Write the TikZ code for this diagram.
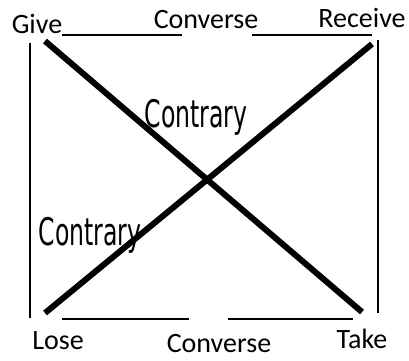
\documentclass[tikz,border=0pt]{standalone}
\usepackage{fontspec}
\setmainfont{Carlito}
\newfontfamily\condfont{DejaVu Sans}
\begin{document}
\begin{tikzpicture}[x=1pt,y=-1pt,
  lbl/.style={inner sep=0pt,font=\fontsize{28}{28}\selectfont},
  contr/.style={inner sep=0pt,xscale=0.62,font=\condfont\fontsize{38}{38}\selectfont},
  thin/.style={line width=1.3pt},
  thick/.style={line width=6pt}]
\useasboundingbox (0,0) rectangle (409,360);
\node[lbl,anchor=base] (give) at (37,33) {Give};
\node[lbl,anchor=base] (conT) at (206,28) {Converse};
\node[lbl,anchor=base] (rec) at (362,27) {Receive};
\node[lbl,anchor=base] (lose) at (58,349) {Lose};
\node[lbl,anchor=base] (conB) at (219,352) {Converse};
\node[lbl,anchor=base] (take) at (362,348) {Take};
\coordinate (tl1) at (62,35); \coordinate (tl2) at (182,35);
\coordinate (tr1) at (252,35); \coordinate (tr2) at (372,35);
\coordinate (bl1) at (62,319); \coordinate (bl2) at (189,319);
\coordinate (br1) at (228,319); \coordinate (br2) at (353,319);
\coordinate (lv1) at (30,43); \coordinate (lv2) at (30,318);
\coordinate (rv1) at (378,40); \coordinate (rv2) at (378,313);
\coordinate (d1a) at (45,41); \coordinate (d1b) at (362,312);
\coordinate (d2a) at (45,313); \coordinate (d2b) at (372,44);
\draw[thin] (tl1) -- (tl2);
\draw[thin] (tr1) -- (tr2);
\draw[thin] (bl1) -- (bl2);
\draw[thin] (br1) -- (br2);
\draw[thin] (lv1) -- (lv2);
\draw[thin] (rv1) -- (rv2);
\draw[thick] (d1a) -- (d1b);
\draw[thick] (d2a) -- (d2b);
\node[contr,anchor=base] (c1) at (196,127) {Contrary};
\node[contr,anchor=base] (c2) at (90,245) {Contrary};
\end{tikzpicture}
\end{document}
